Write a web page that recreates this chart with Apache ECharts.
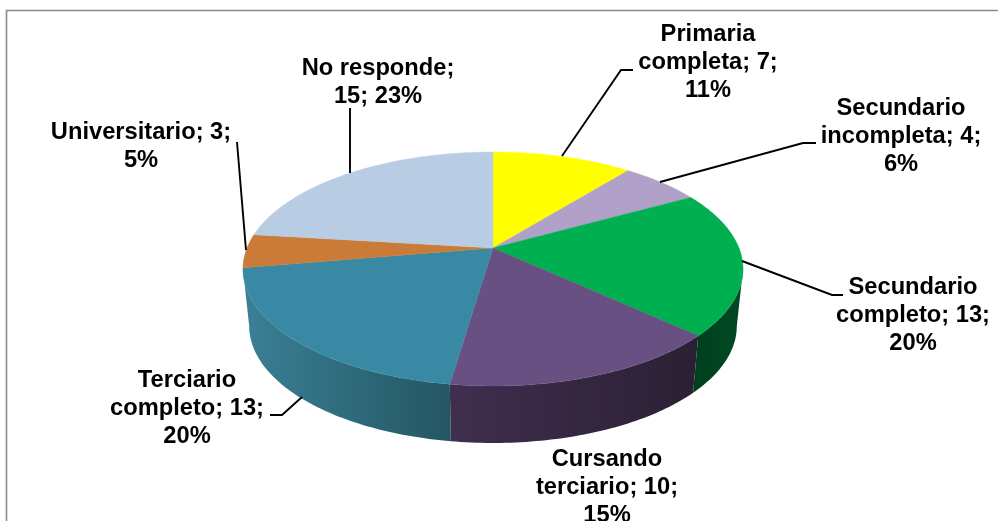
<!DOCTYPE html>
<html>
<head>
<meta charset="utf-8">
<style>html,body{margin:0;padding:0;background:#fff}#c{width:998px;height:521px}</style>
<script src="https://cdn.jsdelivr.net/npm/echarts@6/dist/echarts.min.js"></script>
</head>
<body>
<div id="c"></div>
<script>
// Data
const categories = ['Primaria completa','Secundario incompleta','Secundario completo','Cursando terciario','Terciario completo','Universitario','No responde'];
const values = [7, 4, 13, 10, 13, 3, 15];
const labelTexts = [
  'Primaria\ncompleta; 7;\n11%',
  'Secundario\nincompleta; 4;\n6%',
  'Secundario\ncompleto; 13;\n20%',
  'Cursando\nterciario; 10;\n15%',
  'Terciario\ncompleto; 13;\n20%',
  'Universitario; 3;\n5%',
  'No responde;\n15; 23%'
];

// Styles: side-wall gradient stops run left to right on screen
const topColors = ['#FFFF00','#B1A0C7','#00B050','#695082','#3A89A4','#C97B37','#B8CCE4'];
const wallStops = [null,null,['#003E1E','#004A24'],['#402E4E','#2A2033'],['#3A8096','#245662'],null,null];

// Perspective geometry of the pie disc
const G = {cx:493, cy:248, A:246, B:113.2, k:0.1795, depth:57, bottomScale:0.975};
const LABEL = {
  pos: [[708,62.5],[901,136.5],[913,315.5],[607,487],[187,408.5],[141,146],[378,82.5]],
  leaders: [
    [[562,156],[621,70],[633,70]],
    [[660,182],[803,143],[816,143]],
    [[742,261],[832,295],[843,295]],
    null,
    [[302,397],[282,415],[270,415]],
    [[237,142],[246,250]],
    [[350,108],[350,173]]
  ]
};
const total = values.reduce((a,b)=>a+b,0);
function pt(theta, lower){
  const u=Math.sin(theta), v=Math.cos(theta), d=1+G.k*v;
  const sx=lower?G.bottomScale:1;
  return [G.cx+sx*G.A*u/d, G.cy-G.B*v/d+(lower?G.depth:0)];
}
function arc(a,b,lower){
  const n=Math.max(2,Math.ceil(Math.abs(b-a)/(Math.PI/180))), out=[];
  for(let i=0;i<=n;i++) out.push(pt(a+(b-a)*i/n,lower));
  return out;
}
const visFrom=Math.acos(-G.k), visTo=2*Math.PI-visFrom;

function renderItem(params, api){
  const i=params.dataIndex, val=api.value(0);
  let before=0; for(let j=0;j<i;j++) before+=values[j];
  const a=before/total*2*Math.PI, b=(before+val)/total*2*Math.PI;
  const children=[];
  const wa=Math.max(a,visFrom), wb=Math.min(b,visTo);
  if(wb>wa && wallStops[i]){
    const pts=arc(wa,wb,false).concat(arc(wb,wa,true));
    const xs=pts.map(p=>p[0]);
    children.push({type:'polygon',z2:1,shape:{points:pts},style:{
      fill:{type:'linear',global:true,x:Math.min(...xs),y:0,x2:Math.max(...xs),y2:0,
        colorStops:[{offset:0,color:wallStops[i][0]},{offset:1,color:wallStops[i][1]}]},
      lineWidth:0}});
  }
  const top=[[G.cx,G.cy]].concat(arc(a,b,false));
  children.push({type:'polygon',z2:2,shape:{points:top},style:{fill:topColors[i],stroke:topColors[i],lineWidth:0.4}});
  const lead=LABEL.leaders[i];
  if(lead) children.push({type:'polyline',z2:3,shape:{points:lead},style:{fill:'none',stroke:'#000',lineWidth:1.9}});
  children.push({type:'text',z2:4,x:LABEL.pos[i][0],y:LABEL.pos[i][1],style:{
    text:labelTexts[i],fill:'#000',align:'center',verticalAlign:'middle',
    font:'bold 23.7px "Liberation Sans", Arial, sans-serif',lineHeight:28}});
  return {type:'group',children};
}

const chart=echarts.init(document.getElementById('c'),null,{renderer:'canvas'});
chart.setOption({
  animation:false,
  backgroundColor:'#fff',
  graphic:[{type:'polyline',silent:true,z:0,shape:{points:[[6.5,521],[6.5,10.5],[998,10.5]]},style:{fill:'none',stroke:'#8a8a8a',lineWidth:1.6}}],
  series:[{
    type:'custom',
    coordinateSystem:'none',
    silent:true,
    renderItem,
    data:categories.map((n,i)=>({name:n,value:[values[i]]}))
  }]
});
</script>
</body>
</html>
